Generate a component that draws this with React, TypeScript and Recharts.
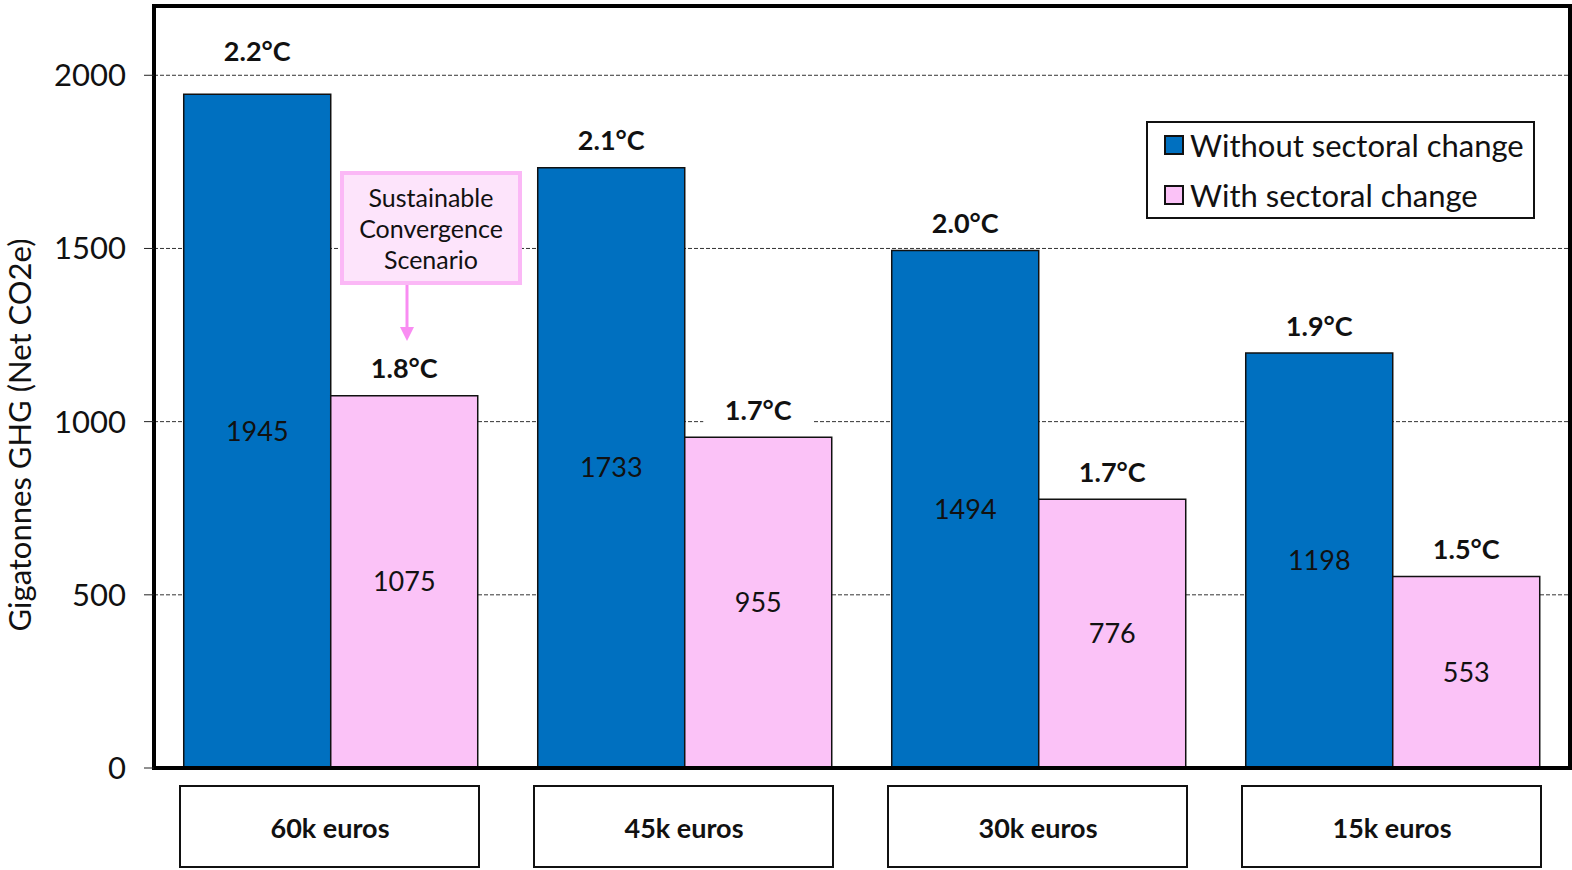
import React from 'react';
import { BarChart, Bar, XAxis, YAxis, CartesianGrid, Legend, LabelList, ReferenceArea } from 'recharts';

// income groups
const categories = ['60k euros', '45k euros', '30k euros', '15k euros'];
// Gt CO2e
const withoutChange = [1945, 1733, 1494, 1198];
const withChange = [1075, 955, 776, 553];
// warming labels above bars
const tempWithout = ['2.2°C', '2.1°C', '2.0°C', '1.9°C'];
const tempWith = ['1.8°C', '1.7°C', '1.7°C', '1.5°C'];
const yTicks = [0, 500, 1000, 1500, 2000];

const BLUE = '#0070C0';
const PINK = '#FBC2F7';
const FONT = 'Lato, "Open Sans", sans-serif';

const data = categories.map((name, i) => ({
  name,
  without: withoutChange[i],
  with: withChange[i],
  tWithout: tempWithout[i],
  tWith: tempWith[i],
}));

const TempLabel = (props: any) => {
  const { x, y, width, value, index, first } = props;
  const cx = x + width / 2;
  // first bar label sits a bit higher in the original
  const ty = y - (first && index === 0 ? 44 : 28);
  return (
    <g>
      <rect x={cx - 55} y={ty - 15} width={110} height={30} fill="#fff" />
      <text x={cx} y={ty} textAnchor="middle" dominantBaseline="central"
        fontFamily={FONT} fontWeight={700} fontSize={27} fill="#111">
        {value}
      </text>
    </g>
  );
};

const CategoryTick = (props: any) => {
  const { x, y, payload } = props;
  return (
    <g>
      <rect x={x - 151} y={y + 18} width={299} height={81} fill="#fff" stroke="#111" strokeWidth={2} />
      <text x={x - 1} y={y + 59} textAnchor="middle" dominantBaseline="central"
        fontFamily={FONT} fontWeight={700} fontSize={27} fill="#111">
        {payload.value}
      </text>
    </g>
  );
};

const LegendBox = () => (
  <div style={{
    border: '2px solid #111', background: '#fff', width: 385, height: 94,
    fontFamily: FONT, fontSize: 31, color: '#111', boxSizing: 'content-box',
  }}>
    {[['Without sectoral change', BLUE], ['With sectoral change', PINK]].map(([t, c], i) => (
      <div key={t} style={{ display: 'flex', alignItems: 'center', height: 50, paddingLeft: 16, marginTop: i === 0 ? -3 : 0 }}>
        <span style={{ width: 16, height: 16, background: c, border: '2px solid #111', marginRight: 6, display: 'inline-block' }} />
        <span>{t}</span>
      </div>
    ))}
  </div>
);

const App: React.FC = () => {
  return (
    <div style={{ position: 'absolute', left: 0, top: 0, width: 1572, height: 870, background: '#fff' }}>
      <BarChart width={1572} height={870} data={data}
        margin={{ top: 6, right: 2, bottom: 0, left: 0 }}
        barCategoryGap="8.4%" barGap={0}>
        <CartesianGrid vertical={false} strokeDasharray="4 2" stroke="#333" strokeWidth={1} />
        <XAxis dataKey="name" height={102} tickLine={false} tickSize={0} tickMargin={0}
          axisLine={{ stroke: '#000', strokeWidth: 4 }} tick={<CategoryTick />} interval={0} />
        <YAxis width={154} domain={[0, 2200]} ticks={yTicks} tickSize={10} tickMargin={18}
          axisLine={{ stroke: '#000', strokeWidth: 4 }} tickLine={{ stroke: '#222' }}
          tick={{ fontFamily: FONT, fontSize: 31, fill: '#111' }}
          label={{
            content: () => (
              <text transform="translate(19,435) rotate(-90)" textAnchor="middle" dominantBaseline="central"
                fontFamily={FONT} fontSize={31} fill="#111">
                Gigatonnes GHG (Net CO2e)
              </text>
            ),
          }} />
        <ReferenceArea y1={0} y2={2200} fill="none" stroke="#000" strokeWidth={4} ifOverflow="visible" />
        <Legend content={<LegendBox />} layout="horizontal" verticalAlign="middle" align="center"
          wrapperStyle={{ position: 'absolute', top: 121, left: 1146, width: 389, height: 98 }} />
        <Bar dataKey="without" name="Without sectoral change" fill={BLUE} stroke="#111" strokeWidth={1.5} isAnimationActive={false}>
          <LabelList dataKey="without" position="center" fontFamily={FONT} fontSize={27} fill="#111" />
          <LabelList dataKey="tWithout" content={<TempLabel first />} />
        </Bar>
        <Bar dataKey="with" name="With sectoral change" fill={PINK} stroke="#111" strokeWidth={1.5} isAnimationActive={false}>
          <LabelList dataKey="with" position="center" fontFamily={FONT} fontSize={27} fill="#111" />
          <LabelList dataKey="tWith" content={<TempLabel />} />
        </Bar>
      </BarChart>
      {/* scenario annotation */}
      <div style={{
        position: 'absolute', left: 340, top: 171, width: 174, height: 106,
        border: '4px solid #FBB8F6', background: '#FDE4FB', fontFamily: FONT, fontSize: 25,
        lineHeight: '31px', color: '#111', textAlign: 'center', display: 'flex', alignItems: 'center', justifyContent: 'center',
      }}>
        Sustainable<br />Convergence<br />Scenario
      </div>
      <svg style={{ position: 'absolute', left: 395, top: 285 }} width={24} height={60}>
        <line x1={12} y1={0} x2={12} y2={44} stroke="#F98CF2" strokeWidth={3} />
        <path d="M5,42 L19,42 L12,56 Z" fill="#F98CF2" />
      </svg>
    </div>
  );
};

export default App;
